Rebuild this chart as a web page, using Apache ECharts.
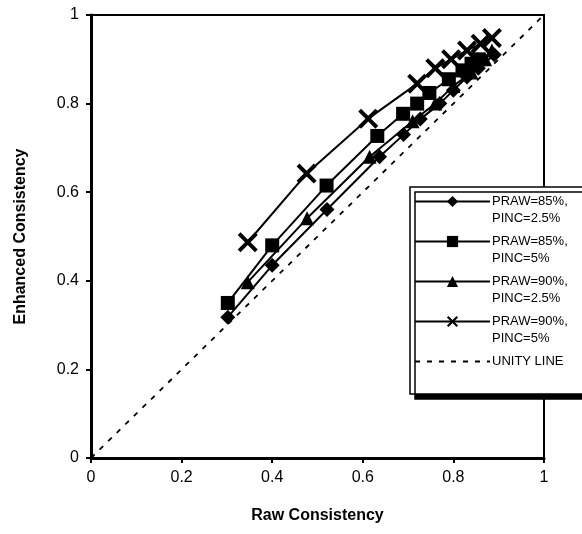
<!DOCTYPE html>
<html><head><meta charset="utf-8">
<script src="https://cdn.jsdelivr.net/npm/echarts@6/dist/echarts.min.js"></script>
<style>html,body{margin:0;padding:0;background:#fff}#c{width:582px;height:534px}</style>
</head><body><div id="c"></div>
<script>
const xTicks = [0, 0.2, 0.4, 0.6, 0.8, 1];
const yTicks = [0, 0.2, 0.4, 0.6, 0.8, 1];
const names = ['PRAW=85%,\nPINC=2.5%', 'PRAW=85%,\nPINC=5%', 'PRAW=90%,\nPINC=2.5%', 'PRAW=90%,\nPINC=5%', 'UNITY LINE'];
const s85_25 = [[0.302,0.318],[0.40,0.435],[0.521,0.561],[0.637,0.68],[0.69,0.73],[0.727,0.765],[0.77,0.80],[0.80,0.83],[0.83,0.86],[0.855,0.88],[0.89,0.91]];
const s85_5 = [[0.302,0.35],[0.40,0.48],[0.52,0.615],[0.632,0.727],[0.689,0.777],[0.72,0.80],[0.747,0.824],[0.79,0.855],[0.82,0.875],[0.84,0.89],[0.855,0.90]];
const s90_25 = [[0.346,0.397],[0.477,0.541],[0.615,0.68],[0.71,0.76],[0.76,0.80],[0.80,0.84],[0.84,0.87],[0.87,0.90],[0.885,0.92]];
const s90_5 = [[0.346,0.487],[0.476,0.642],[0.612,0.766],[0.72,0.845],[0.76,0.88],[0.795,0.90],[0.83,0.92],[0.86,0.935],[0.885,0.948]];
const unity = [[0,0],[1,1]];

const X = 'path://M0,1.4L1.4,0L5,3.6L8.6,0L10,1.4L6.4,5L10,8.6L8.6,10L5,6.4L1.4,10L0,8.6L3.6,5Z';
const font = 'Liberation Sans, Arial, sans-serif';
function ser(name, data, sym, size) {
  return {name, type:'line', data, symbol:sym, symbolSize:size, showSymbol:true,
    lineStyle:{color:'#000', width:2}, itemStyle:{color:'#000'}, animation:false, z:3};
}
const chart = echarts.init(document.getElementById('c'), null, {renderer:'canvas'});
chart.setOption({
  animation:false,
  grid:{left:91, right:38, top:15, bottom:76, show:true, borderColor:'#000', borderWidth:2},
  xAxis:{type:'value', min:0, max:1, interval:0.2,
    axisLine:{show:true, lineStyle:{color:'#000', width:3}},
    axisTick:{show:true, inside:false, length:5, lineStyle:{color:'#000', width:2}},
    splitLine:{show:false},
    axisLabel:{color:'#000', fontSize:16, fontFamily:font, margin:12,
      formatter:v=>{const i=xTicks.findIndex(t=>Math.abs(t-v)<1e-9);return i>=0?String(xTicks[i]):'';}},
    name:'Raw Consistency', nameLocation:'middle', nameGap:50,
    nameTextStyle:{color:'#000', fontSize:16, fontWeight:'bold', fontFamily:font}},
  yAxis:{type:'value', min:0, max:1, interval:0.2,
    axisLine:{show:true, lineStyle:{color:'#000', width:3}},
    axisTick:{show:true, inside:false, length:5, lineStyle:{color:'#000', width:2}},
    splitLine:{show:false},
    axisLabel:{color:'#000', fontSize:16, fontFamily:font, margin:12,
      formatter:v=>{const i=yTicks.findIndex(t=>Math.abs(t-v)<1e-9);return i>=0?String(yTicks[i]):'';}},
    name:'Enhanced Consistency', nameLocation:'middle', nameGap:62,
    nameTextStyle:{color:'#000', fontSize:16, fontWeight:'bold', fontFamily:font}},
  legend:{orient:'vertical', left:410, top:187, padding:[-9,100,9,4],
    backgroundColor:'#fff', borderColor:'#000', borderWidth:1.5,
    shadowColor:'#000', shadowBlur:0, shadowOffsetX:5, shadowOffsetY:5,
    itemWidth:75, itemHeight:14, itemGap:-7,
    data:names,
    formatter:n=>{const p=n.split('\n'); return p.length>1 ? '{e| }\n{t|'+p[0]+'}\n{t|'+p[1]+'}' : '{e| }\n{t|'+n+'}\n{e| }';},
    textStyle:{color:'#000', fontSize:13, fontFamily:font, padding:[0,0,0,-3],
      rich:{e:{lineHeight:17, fontSize:13}, t:{lineHeight:17, fontSize:13, fontFamily:font, color:'#000'}}}},
  series:[
    ser(names[0], s85_25, 'diamond', 15),
    ser(names[1], s85_5, 'rect', 14),
    ser(names[2], s90_25, 'triangle', 14),
    ser(names[3], s90_5, X, 20),
    {name:names[4], type:'line', data:unity, symbol:'circle', showSymbol:false, symbolSize:0,
      lineStyle:{color:'#000', width:1.8, type:[5,7]}, itemStyle:{color:'rgba(0,0,0,0)'}, z:2}
  ]
});
</script></body></html>
